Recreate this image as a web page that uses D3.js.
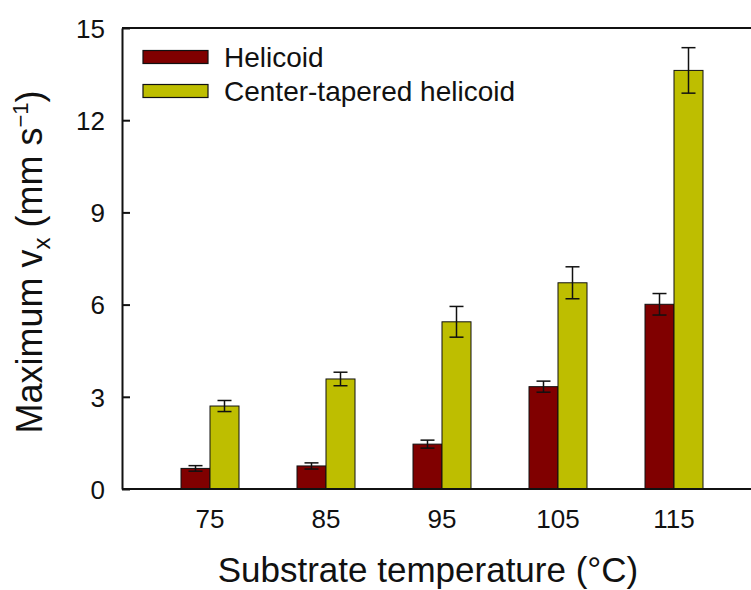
<!DOCTYPE html>
<html>
<head>
<meta charset="utf-8">
<script src="https://cdn.jsdelivr.net/npm/d3@7/dist/d3.min.js"></script>
<style>
  html, body { margin: 0; padding: 0; background: #fff; }
  svg { display: block; font-family: Arial, "Liberation Sans", sans-serif; }
</style>
</head>
<body>
<svg id="chart" width="751" height="590"></svg>
<script>
// Substrate temperatures (°C)
const temperatures = ["75", "85", "95", "105", "115"];
// Maximum v_x (mm s^-1) and its error for each geometry
const helicoid = [0.67, 0.75, 1.46, 3.33, 6.01];
const helicoidErr = [0.09, 0.10, 0.13, 0.18, 0.35];
const tapered = [2.70, 3.58, 5.44, 6.71, 13.62];
const taperedErr = [0.18, 0.22, 0.50, 0.52, 0.74];
const seriesNames = ["Helicoid", "Center-tapered helicoid"];
const yTicks = [0, 3, 6, 9, 12, 15];

const colors = ["#800000", "#bebe00"];
const font = "Arial, 'Liberation Sans', sans-serif";

const svg = d3.select("#chart");
const plotLeft = 122, plotRight = 751, plotTop = 28, plotBottom = 489;

const y = d3.scaleLinear().domain([0, 15]).range([plotBottom, plotTop]);
const x0 = d3.scaleBand().domain(temperatures).range([152, 732])
  .paddingInner(0.5).paddingOuter(0.25);
const x1 = d3.scaleBand().domain([0, 1]).range([0, x0.bandwidth()]);

const series = [
  { name: seriesNames[0], values: helicoid, err: helicoidErr },
  { name: seriesNames[1], values: tapered, err: taperedErr }
];

// bars
series.forEach((s, si) => {
  const g = svg.append("g");
  g.selectAll("rect").data(temperatures).join("rect")
    .attr("x", d => x0(d) + x1(si))
    .attr("y", (d, i) => y(s.values[i]))
    .attr("width", x1.bandwidth())
    .attr("height", (d, i) => y(0) - y(s.values[i]))
    .attr("fill", colors[si])
    .attr("stroke", "#111")
    .attr("stroke-width", 1);
  // error bars
  const eg = g.selectAll("g.err").data(temperatures).join("g").attr("class", "err")
    .attr("stroke", "#111").attr("stroke-width", 1.5);
  eg.append("line")
    .attr("x1", d => x0(d) + x1(si) + x1.bandwidth() / 2)
    .attr("x2", d => x0(d) + x1(si) + x1.bandwidth() / 2)
    .attr("y1", (d, i) => y(s.values[i] - s.err[i]))
    .attr("y2", (d, i) => y(s.values[i] + s.err[i]));
  [-1, 1].forEach(sign => {
    eg.append("line")
      .attr("x1", d => x0(d) + x1(si) + x1.bandwidth() / 2 - 7)
      .attr("x2", d => x0(d) + x1(si) + x1.bandwidth() / 2 + 7)
      .attr("y1", (d, i) => y(s.values[i] + sign * s.err[i]))
      .attr("y2", (d, i) => y(s.values[i] + sign * s.err[i]));
  });
});

// frame
svg.append("line").attr("x1", plotLeft).attr("x2", plotRight).attr("y1", plotTop).attr("y2", plotTop)
  .attr("stroke", "#111").attr("stroke-width", 2);

// y axis with inward ticks
const yAxis = d3.axisLeft(y).tickValues(yTicks).tickSizeInner(-8).tickSizeOuter(0).tickPadding(17);
const yg = svg.append("g").attr("transform", `translate(${plotLeft},0)`).call(yAxis);
yg.select(".domain").attr("stroke", "#111").attr("stroke-width", 2);
yg.selectAll(".tick line").attr("stroke", "#111").attr("stroke-width", 2);
yg.selectAll(".tick text").attr("font-size", 26).attr("fill", "#111")
  .attr("font-family", font).attr("dy", "0.36em");

// x axis
const xAxis = d3.axisBottom(x0).tickSize(0).tickPadding(0);
const xg = svg.append("g").attr("transform", `translate(0,${plotBottom})`).call(xAxis);
xg.select(".domain").remove();
xg.selectAll(".tick text").attr("font-size", 26).attr("fill", "#111")
  .attr("font-family", font).attr("y", 39).attr("dy", 0);
svg.append("line").attr("x1", plotLeft).attr("x2", plotRight).attr("y1", plotBottom).attr("y2", plotBottom)
  .attr("stroke", "#111").attr("stroke-width", 2);

// axis titles
svg.append("text").attr("x", 428).attr("y", 582).attr("text-anchor", "middle")
  .attr("font-size", 35).attr("fill", "#111").text("Substrate temperature (°C)");

const yt = svg.append("text").attr("transform", "translate(42,262) rotate(-90)")
  .attr("text-anchor", "middle").attr("font-size", 36).attr("fill", "#111");
yt.append("tspan").text("Maximum v");
yt.append("tspan").attr("font-size", 24).attr("dy", 8).text("x");
yt.append("tspan").attr("dy", -8).text(" (mm s");
yt.append("tspan").attr("font-size", 22).attr("dy", -14).text("−1");
yt.append("tspan").attr("dy", 14).text(")");

// legend
const lg = svg.append("g");
series.forEach((s, si) => {
  const cy = 57 + si * 34;
  lg.append("rect").attr("x", 143).attr("y", cy - 6.5).attr("width", 65).attr("height", 13)
    .attr("fill", colors[si]).attr("stroke", "#111").attr("stroke-width", 1.2);
  lg.append("text").attr("x", 224).attr("y", cy).attr("dy", "0.36em")
    .attr("font-size", 28).attr("fill", "#111").text(s.name);
});
</script>
</body>
</html>
